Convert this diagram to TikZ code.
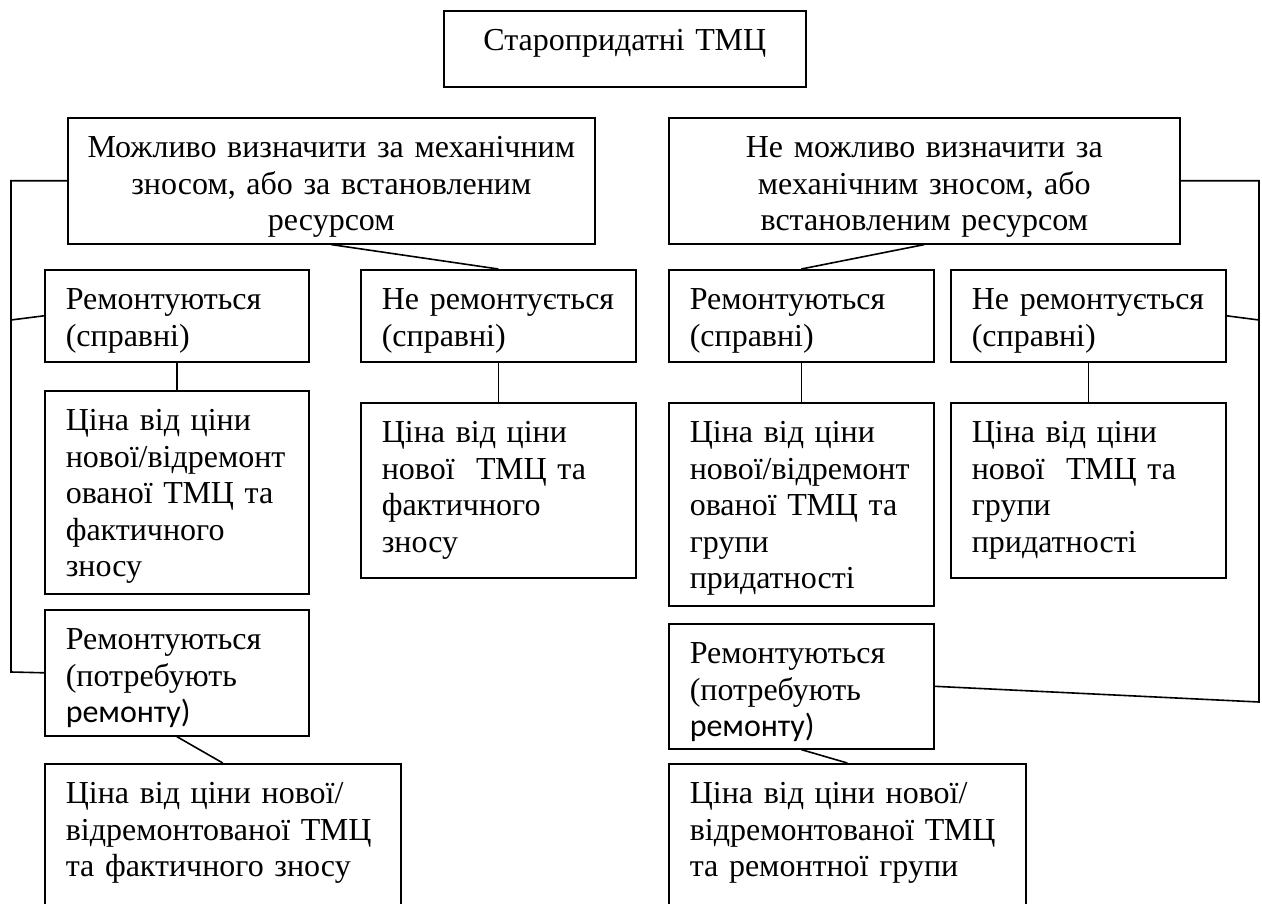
\documentclass[tikz,border=0pt]{standalone}
\usepackage{fontspec}
\setmainfont{Liberation Serif}
\newfontfamily\calib{Carlito}
\hyphenpenalty=10000
\exhyphenpenalty=10000
\begin{document}
\begin{tikzpicture}[x=1pt,y=-1pt,
  box/.style={draw, line width=1.6pt, anchor=north west, inner xsep=21pt, inner ysep=0pt,
    text height=40pt, align=left, font=\fontsize{32}{36.5}\selectfont},
  cbox/.style={box, align=center, inner xsep=4pt},
  conn/.style={line width=1.6pt}]
\useasboundingbox (0,0) rectangle (1262,904);
\fill[white] (0,0) rectangle (1262,904);
\clip (0,0) rectangle (1262,904);

\node[cbox, text width=354pt, text depth=36pt] (top) at (443,10) {Старопридатні ТМЦ};

\node[cbox, text width=519pt, text depth=86pt] (bigL) at (67,117)
  {Можливо визначити за механічним\\зносом, або за встановленим\\ресурсом};
\node[cbox, text width=503pt, text depth=86pt] (bigR) at (668,117)
  {Не можливо визначити за\\механічним зносом, або\\встановленим ресурсом};

\node[box, text width=222pt, text depth=52pt] (remL1) at (44,269) {Ремонтуються\\(справні)};
\node[box, text width=233pt, text depth=52pt] (neremL) at (360,269) {Не ремонтується\\(справні)};
\node[box, text width=223pt, text depth=52pt] (remR1) at (668,269) {Ремонтуються\\(справні)};
\node[box, text width=233pt, text depth=52pt] (neremR) at (950,269) {Не ремонтується\\(справні)};

\node[box, text width=222pt, text depth=163pt] (cenL1) at (44,390)
  {Ціна від ціни\\нової/відремонт\\ованої ТМЦ та\\фактичного\\зносу};
\node[box, text width=233pt, text depth=135pt] (cenL2) at (360,402)
  {Ціна від ціни\\нової\ \ ТМЦ та\\фактичного\\зносу};
\node[box, text width=223pt, text depth=163pt] (cenR1) at (668,402)
  {Ціна від ціни\\нової/відремонт\\ованої ТМЦ та\\групи\\придатності};
\node[box, text width=233pt, text depth=135pt] (cenR2) at (950,402)
  {Ціна від ціни\\нової\ \ ТМЦ та\\групи\\придатності};

\node[box, text width=222pt, text depth=86pt] (remL2) at (44,609)
  {Ремонтуються\\(потребують\\{\calib ремонту)}};
\node[box, text width=223pt, text depth=85pt] (remR2) at (668,623)
  {Ремонтуються\\(потребують\\{\calib ремонту)}};

\node[box, text width=314pt, text depth=140pt] (botL) at (44,763)
  {Ціна від ціни нової/\\відремонтованої ТМЦ\\та фактичного зносу};
\node[box, text width=315pt, text depth=140pt] (botR) at (668,763)
  {Ціна від ціни нової/\\відремонтованої ТМЦ\\та ремонтної групи};

\coordinate (lb) at (11,672);
\coordinate (lm) at (11,320);
\coordinate (rb) at (1259,702);
\coordinate (rm) at (1259,320);

\draw[conn] (bigL.west) -| (lb) -- (remL2.west);
\draw[conn] (lm) -- (remL1.west);
\draw[conn] (bigR.east) -| (rb) -- (remR2.east);
\draw[conn] (neremR.east) -- (rm);

\draw[conn] (bigL.south) -- (neremL.north);
\draw[conn] (bigR.south) -- (remR1.north);

\draw[conn] (remL1.south) -- (cenL1.north);
\draw[conn] (neremL.south) -- (cenL2.north);
\draw[conn] (remR1.south) -- (cenR1.north);
\draw[conn] (neremR.south) -- (cenR2.north);

\draw[conn] (remL2.south) -- (botL.north);
\draw[conn] (remR2.south) -- (botR.north);
\end{tikzpicture}
\end{document}
